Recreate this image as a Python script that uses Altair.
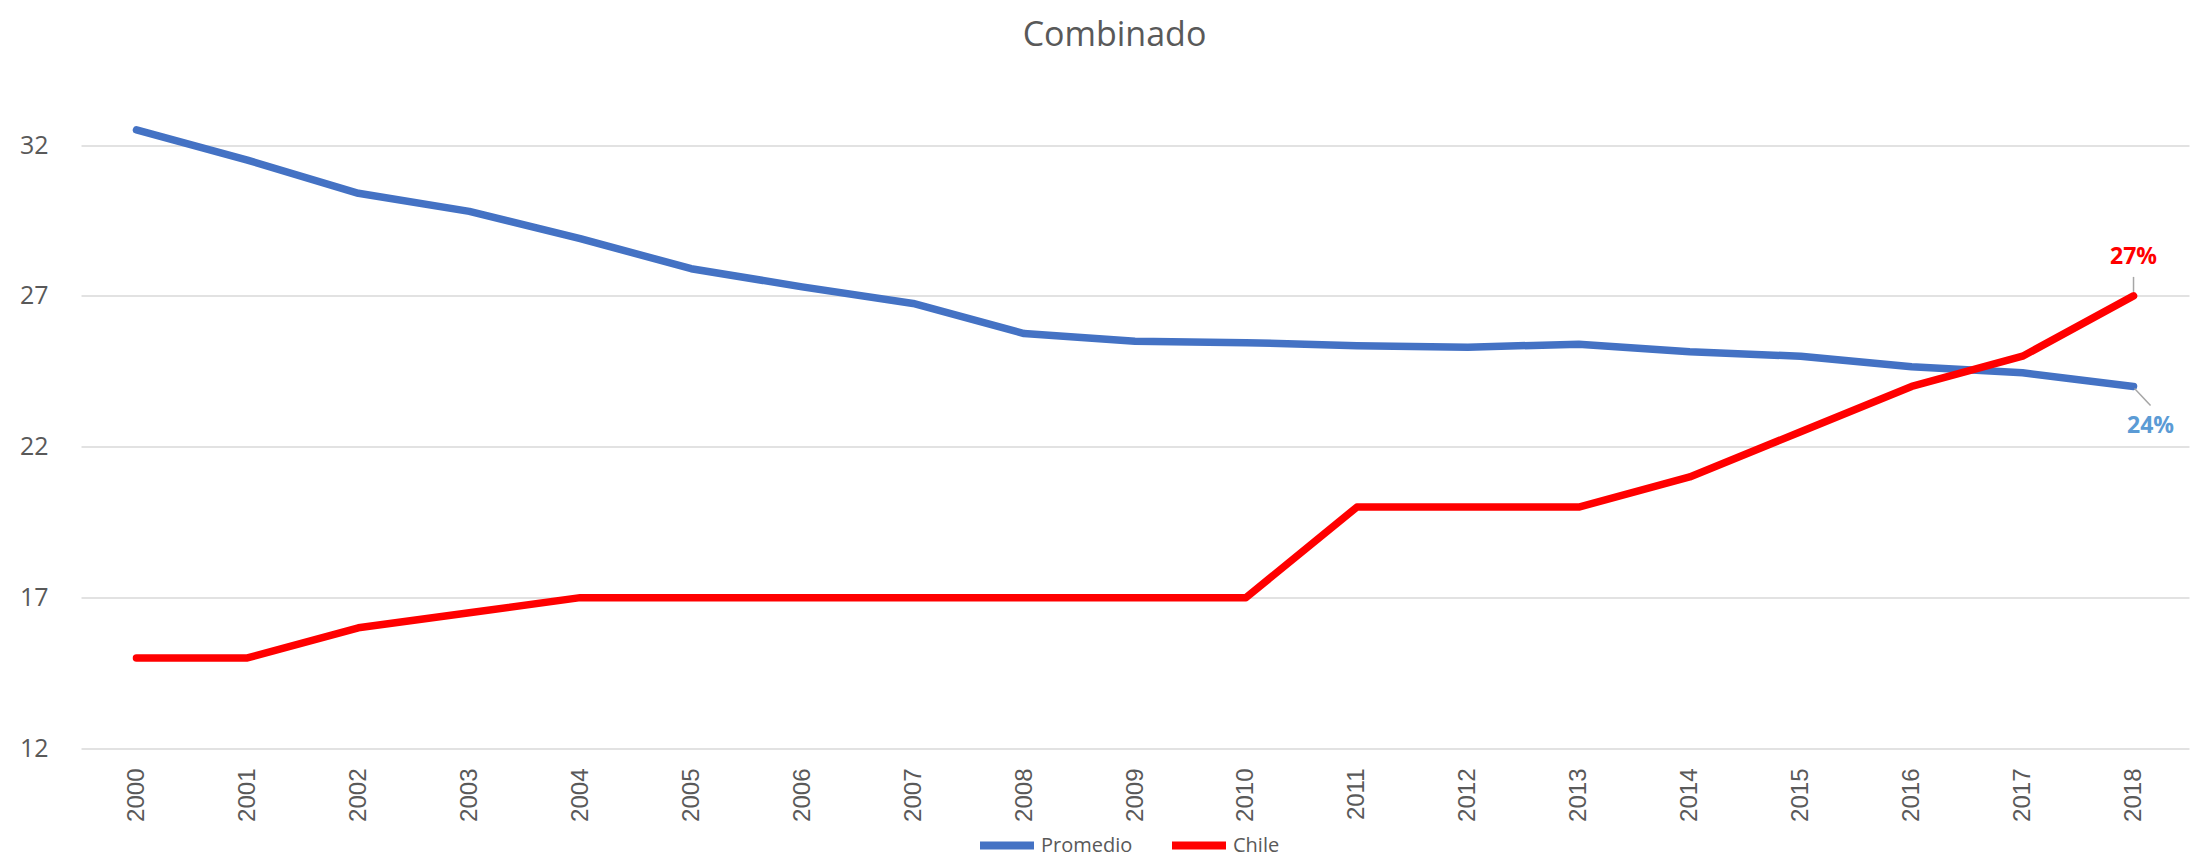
import altair as alt
import pandas as pd

years = list(range(2000, 2019))
promedio = [32.5, 31.5, 30.4, 29.8, 28.9, 27.9, 27.3, 26.75, 25.75, 25.5, 25.45,
            25.35, 25.3, 25.4, 25.15, 25.0, 24.65, 24.45, 24.0]
chile = [15, 15, 16, 16.5, 17, 17, 17, 17, 17, 17, 17,
         20, 20, 20, 21, 22.5, 24, 25, 27]
series_names = ["Promedio", "Chile"]
series_colors = ["#4472C4", "#FF0000"]
y_ticks = [12, 17, 22, 27, 32]

rows = []
for name, vals in zip(series_names, [promedio, chile]):
    for yr, v in zip(years, vals):
        rows.append({"year": yr, "series": name, "value": v})
df = pd.DataFrame(rows)

lab_chile = pd.DataFrame({"year": [years[-1]], "value": [chile[-1]], "text": ["27%"]})
lab_prom = pd.DataFrame({"year": [years[-1]], "value": [promedio[-1]], "text": ["24%"]})

xscale = alt.Scale(domain=[1999.5, 2018.5], nice=False, zero=False)
yscale = alt.Scale(domain=[12, 35], nice=False, zero=False)

x_enc = alt.X("year:Q", scale=xscale, title=None,
              axis=alt.Axis(values=years, format="d", labelAngle=-90, grid=False,
                            ticks=False, tickSize=0, domain=False, labelPadding=19.5,
                            labelFont="Liberation Sans", labelFontSize=24,
                            labelColor="#595959"))
y_enc = alt.Y("value:Q", scale=yscale, title=None,
              axis=alt.Axis(values=y_ticks, grid=True, gridColor="#D9D9D9", gridWidth=1.5,
                            ticks=False, tickSize=0, domain=False, labelPadding=33,
                            labelFont="Open Sans", labelFontSize=25, labelColor="#595959"))

lines = alt.Chart(df).mark_line(strokeWidth=7.5, strokeCap="round", strokeJoin="round").encode(
    x=x_enc,
    y=y_enc,
    color=alt.Color("series:N",
                    scale=alt.Scale(domain=series_names, range=series_colors),
                    legend=alt.Legend(title=None, orient="none", direction="horizontal",
                                      legendX=895, legendY=760, symbolType="stroke",
                                      symbolSize=2916, symbolStrokeWidth=8,
                                      labelFont="Open Sans", labelFontSize=20,
                                      labelColor="#595959", labelOffset=3,
                                      columnPadding=23, padding=0)),
    detail="series:N",
)

rule_chile = alt.Chart(lab_chile).mark_rule(color="#A6A6A6", strokeWidth=1.5,
                                            yOffset=-4, y2Offset=-19).encode(
    x="year:Q", y="value:Q", y2="value:Q")
rule_prom = alt.Chart(lab_prom).mark_rule(color="#A6A6A6", strokeWidth=1.5,
                                          xOffset=1, yOffset=2, x2Offset=17, y2Offset=19).encode(
    x="year:Q", x2="year:Q", y="value:Q", y2="value:Q")

text_chile = alt.Chart(lab_chile).mark_text(font="Open Sans", fontSize=23, fontWeight="bold",
                                            color="#FF0000", dy=-39, baseline="middle").encode(
    x="year:Q", y="value:Q", text="text:N")
text_prom = alt.Chart(lab_prom).mark_text(font="Open Sans", fontSize=23, fontWeight="bold",
                                          color="#5B9BD5", dx=17, dy=40, baseline="middle").encode(
    x="year:Q", y="value:Q", text="text:N")

chart = alt.layer(lines, rule_chile, rule_prom, text_chile, text_prom).properties(
    width=2108,
    height=694,
    title=alt.TitleParams("Combinado", font="Open Sans", fontSize=34, color="#595959",
                          fontWeight="normal", anchor="middle", dx=-20.5, offset=2,
                          frame="group"),
    autosize=alt.AutoSizeParams(type="none"),
    padding={"left": 73, "top": 46.5, "right": 6, "bottom": 108.5},
).configure(background="white").configure_view(strokeWidth=0, stroke="transparent")

chart.save("out.html", embed_options={"renderer": "svg", "actions": False})
